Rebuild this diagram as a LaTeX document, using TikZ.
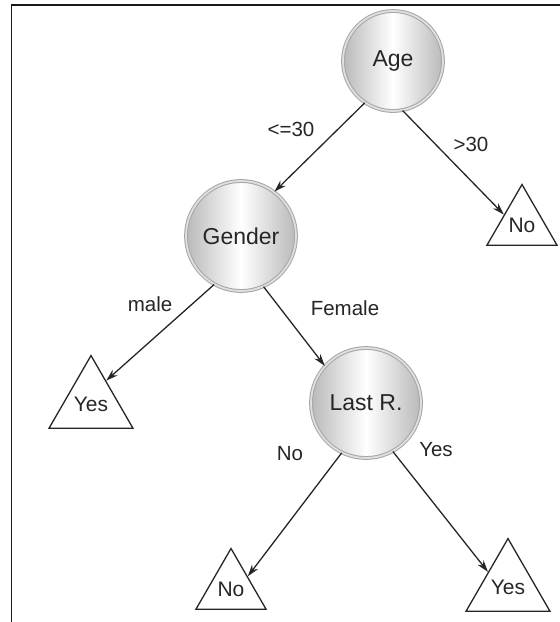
\documentclass[tikz,border=0pt]{standalone}
\usepackage{fontspec}
\setmainfont{Liberation Sans}
\usetikzlibrary{shapes.geometric,arrows.meta}
\begin{document}
\begin{tikzpicture}[x=1pt,y=-1pt,
  dec/.style={circle, minimum size=110pt, inner sep=0pt, draw=gray!70, double=gray!25, double distance=1.8pt, line width=1pt, left color=gray!55, right color=gray!55, middle color=white, text=black!85, font=\fontsize{23}{25}\selectfont},
  leaf/.style={regular polygon, regular polygon sides=3, minimum size=81pt, inner sep=0pt, draw=black!85, line width=1.3pt, text=black!85, font=\fontsize{21}{23}\selectfont},
  edge/.style={draw=black!85, line width=1.3pt, -{Stealth[length=12pt,width=7.5pt]}},
  lab/.style={text=black!85, font=\fontsize{20.5}{22}\selectfont, inner sep=0pt}]
\useasboundingbox (0,0) rectangle (560,622);
\draw[line width=1.8pt, black!90] (11.5,622) |- (560,5);
\node[dec, minimum size=100pt] (age) at (393,61) {Age};
\node[dec] (gender) at (241,236) {Gender};
\node[dec] (last) at (366,403) {Last R.};
\node[leaf] (n1) at (522,225) {No};
\node[leaf] (y1) at (91,404) {Yes};
\node[leaf] (n2) at (231,589) {No};
\node[leaf] (y2) at (508,587) {Yes};
\draw[edge] (age.-124) -- (gender.53);
\draw[edge] (age.-79) -- (n1.150);
\draw[edge] (gender.-119) -- (y1.57);
\draw[edge] (gender.-66) -- (last.138);
\draw[edge] (last.-116) -- (n2.37);
\draw[edge] (last.-61) -- (y2.143);
\node[lab] (l1) at (291,129) {<=30};
\node[lab] (l2) at (471,144) {>30};
\node[lab] (l3) at (150,304) {male};
\node[lab] (l4) at (345,308) {Female};
\node[lab] (l5) at (290,454) {No};
\node[lab] (l6) at (436,450) {Yes};
\end{tikzpicture}
\end{document}
